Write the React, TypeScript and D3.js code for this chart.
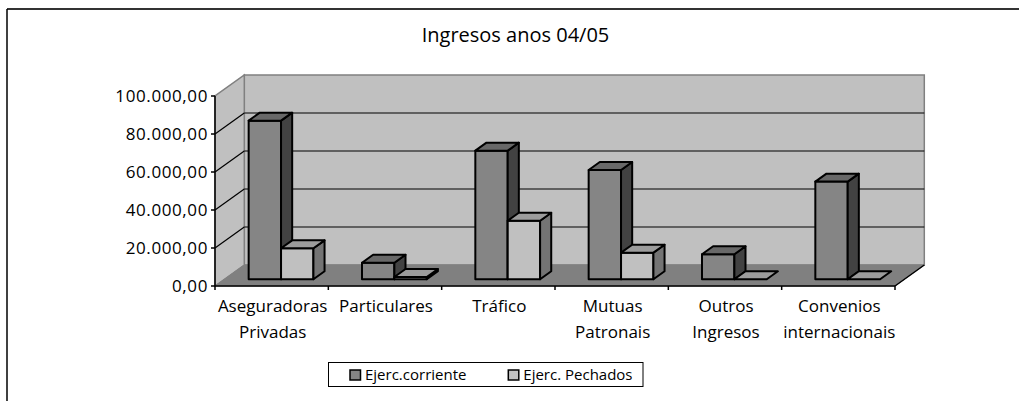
import React from "react";
import * as d3 from "d3";

const title = "Ingresos anos 04/05";
const categories = [
  "Aseguradoras Privadas",
  "Particulares",
  "Tráfico",
  "Mutuas Patronais",
  "Outros Ingresos",
  "Convenios internacionais",
];
const seriesNames = ["Ejerc.corriente", "Ejerc. Pechados"];
const corriente = [83500, 8700, 67700, 57500, 13200, 51400];
const pechados = [16300, 1200, 30800, 14000, 0, 0];
const yTicks = [0, 20000, 40000, 60000, 80000, 100000];

const W = 1019;
const H = 401;
const FONT = "'Open Sans', 'Noto Sans', sans-serif";

const x0 = 215;
const x1 = 895;
const yBase = 286;
const yTopV = 96;
const D = { x: 29.3, y: -21 };
const f1 = 0.32;
const f2 = 0.7;

const fronts = ["#858585", "#c0c0c0"];
const tops = ["#686868", "#9c9c9c"];
const sides = ["#424242", "#747474"];

const esLocale = d3.formatLocale({
  decimal: ",",
  thousands: ".",
  grouping: [3],
  currency: ["", "€"],
});
const fmt = esLocale.format(",.2f");

export default function App() {
  const y = d3.scaleLinear().domain([0, 100000]).range([yBase, yTopV]);
  const xc = d3.scaleBand<string>().domain(categories).range([x0, x1]).padding(0);
  const bw = xc.bandwidth();
  const barW = bw / 3.5;
  const series = [corriente, pechados];

  const P = (x: number, v: number, f: number) => [x + f * D.x, y(v) + f * D.y];
  const poly = (pts: number[][]) => pts.map((p) => p.join(",")).join(" ");

  const bars: JSX.Element[] = [];
  categories.forEach((c, ci) => {
    series.forEach((s, si) => {
      const v = s[ci];
      const xl = (xc(c) as number) + 0.75 * barW + si * barW;
      const xr = xl + barW;
      const front = [P(xl, 0, f1), P(xr, 0, f1), P(xr, v, f1), P(xl, v, f1)];
      const top = [P(xl, v, f1), P(xr, v, f1), P(xr, v, f2), P(xl, v, f2)];
      const side = [P(xr, 0, f1), P(xr, 0, f2), P(xr, v, f2), P(xr, v, f1)];
      const common = { stroke: "#000", strokeWidth: 2, strokeLinejoin: "round" as const };
      bars.push(
        <g key={`${ci}-${si}`}>
          {v > 0 && <polygon points={poly(front)} fill={fronts[si]} {...common} />}
          {v > 0 && <polygon points={poly(side)} fill={sides[si]} {...common} />}
          <polygon points={poly(top)} fill={tops[si]} {...common} />
        </g>
      );
    });
  });

  const backL = x0 + D.x;
  const backR = x1 + D.x;

  return (
    <svg
      width={W}
      height={H}
      style={{ position: "absolute", left: 0, top: 0, background: "#fff" }}
      fontFamily={FONT}
    >
      {/* outer border */}
      <line x1={7} y1={9} x2={W} y2={9} stroke="#333" strokeWidth={2} />
      <line x1={7} y1={9} x2={7} y2={H} stroke="#000" strokeWidth={1.5} />

      <text x={515.5} y={42} textAnchor="middle" fontSize={20} fill="#000">
        {title}
      </text>

      {/* back wall */}
      <polygon
        points={poly([
          [backL, y(0) + D.y],
          [backR, y(0) + D.y],
          [backR, y(100000) + D.y],
          [backL, y(100000) + D.y],
        ])}
        fill="#c0c0c0"
        stroke="#808080"
        strokeWidth={1.5}
      />
      {/* side wall */}
      <polygon
        points={poly([
          [x0, y(0)],
          [backL, y(0) + D.y],
          [backL, y(100000) + D.y],
          [x0, y(100000)],
        ])}
        fill="#c0c0c0"
        stroke="#808080"
        strokeWidth={1.5}
      />
      {/* floor */}
      <polygon
        points={poly([
          [x0, y(0)],
          [x1, y(0)],
          [backR, y(0) + D.y],
          [backL, y(0) + D.y],
        ])}
        fill="#808080"
        stroke="#808080"
        strokeWidth={1}
      />
      {/* gridlines */}
      {yTicks
        .filter((t) => t > 0 && t < 100000)
        .map((t) => (
          <g key={t}>
            <line x1={backL} y1={y(t) + D.y} x2={backR} y2={y(t) + D.y} stroke="#000" strokeWidth={1.2} />
            <line x1={x0} y1={y(t)} x2={backL} y2={y(t) + D.y} stroke="#000" strokeWidth={1.2} />
          </g>
        ))}

      {bars}

      {/* axes */}
      <line x1={x0} y1={y(0)} x2={x0} y2={y(100000)} stroke="#000" strokeWidth={1.5} />
      <line x1={x0} y1={y(0)} x2={x1} y2={y(0)} stroke="#000" strokeWidth={1.5} />
      <line x1={x1} y1={y(0)} x2={backR} y2={y(0) + D.y} stroke="#000" strokeWidth={1.5} />
      {yTicks.map((t) => (
        <g key={t}>
          <line x1={x0 - 4} y1={y(t)} x2={x0} y2={y(t)} stroke="#000" strokeWidth={1.5} />
          <text x={208} y={y(t) + 6} textAnchor="end" fontSize={17} letterSpacing={0.6} fill="#000">
            {fmt(t)}
          </text>
        </g>
      ))}
      {categories.map((c, i) => (
        <line
          key={"tk" + i}
          x1={xc(c) as number}
          y1={y(0)}
          x2={xc(c) as number}
          y2={y(0) + 4}
          stroke="#000"
          strokeWidth={1.5}
        />
      ))}
      <line x1={x1} y1={y(0)} x2={x1} y2={y(0) + 4} stroke="#000" strokeWidth={1.5} />
      {categories.map((c) => (
        <text key={c} textAnchor="middle" fontSize={17} fill="#000">
          {c.split(" ").map((w, li) => (
            <tspan key={li} x={(xc(c) as number) + bw / 2 + 1} y={312 + li * 26}>
              {w}
            </tspan>
          ))}
        </text>
      ))}

      {/* legend */}
      <rect x={328.5} y={362.5} width={314.5} height={24} fill="#fff" stroke="#000" strokeWidth={1} />
      {seriesNames.map((n, i) => {
        const lx = i === 0 ? 350 : 508.3;
        return (
          <g key={n}>
            <rect x={lx} y={370} width={10.5} height={10} fill={fronts[i]} stroke="#000" strokeWidth={1.5} />
            <text x={lx + 15} y={380} fontSize={15} fill="#000">
              {n}
            </text>
          </g>
        );
      })}
    </svg>
  );
}
